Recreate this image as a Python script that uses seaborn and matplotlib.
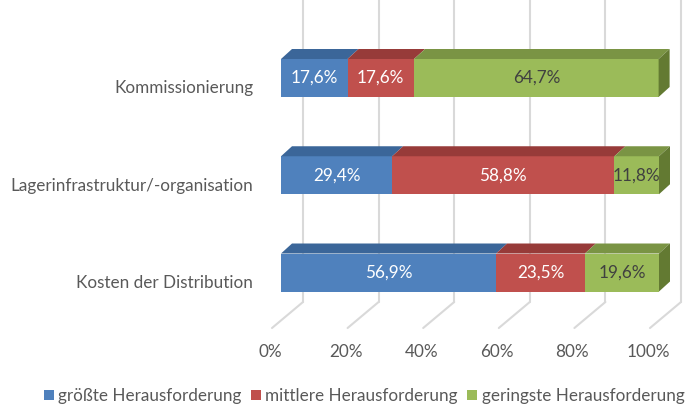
import numpy as np
import pandas as pd
import matplotlib
matplotlib.use("Agg")
import matplotlib.pyplot as plt
import matplotlib.transforms as mtransforms
from matplotlib.patches import Polygon, Patch
import seaborn as sns

# data
categories = ["Kommissionierung", "Lagerinfrastruktur/-organisation", "Kosten der Distribution"]
groesste = [17.6, 29.4, 56.9]
mittlere = [17.6, 58.8, 23.5]
geringste = [64.7, 11.8, 19.6]
series_names = ["größte Herausforderung", "mittlere Herausforderung", "geringste Herausforderung"]
tick_values = [0, 20, 40, 60, 80, 100]

front_cols = ["#4F81BD", "#C0504D", "#9BBB59"]
top_cols = ["#3B6699", "#973B39", "#7A9444"]
side_col = "#637A32"
label_cols = ["white", "white", "#404040"]

sns.set_style("white")
plt.rcParams["font.family"] = ["Lato", "DejaVu Sans"]
fs = 12.3

df = pd.DataFrame({"cat": categories, "s1": groesste, "s2": mittlere, "s3": geringste})
df["c1"] = df["s1"]
df["c2"] = df["s1"] + df["s2"]
df["c3"] = df["s1"] + df["s2"] + df["s3"]

W, H = 691, 407
fig = plt.figure(figsize=(W / 100, H / 100), dpi=100)
# axes: x 0% at px 281, 100% at px 659; bar centres 97.25 px apart
px_x = 3.78
px_y = 97.25
left_px, right_px, top_px, bot_px = 281, 685, 0, 340
ax = fig.add_axes([left_px / W, (H - bot_px) / H, (right_px - left_px) / W, (bot_px - top_px) / H])

bar_h = 38 / px_y
# stacked bars via cumulative totals, drawn longest first
for col, fc in zip(["c3", "c2", "c1"], front_cols[::-1]):
    sns.barplot(data=df, x=col, y="cat", orient="h", color=fc, width=bar_h,
                saturation=1, ax=ax, zorder=3, linewidth=0)

ax.set_xlim(0, (right_px - left_px) / px_x)
ax.set_ylim((bot_px - 78) / px_y, (top_px - 78) / px_y)

# 3D look: top faces and right side face
dx = 11 / px_x
dy = 10 / px_y
cums = df[["c1", "c2", "c3"]].to_numpy()
segs = df[["s1", "s2", "s3"]].to_numpy()
for i in range(len(categories)):
    ytop = i - bar_h / 2
    ybot = i + bar_h / 2
    starts = np.concatenate([[0], cums[i, :-1]])
    for j in range(3):
        x0, x1 = starts[j], cums[i, j]
        ax.add_patch(Polygon([(x0, ytop), (x1, ytop), (x1 + dx, ytop - dy), (x0 + dx, ytop - dy)],
                             closed=True, fc=top_cols[j], ec="none", zorder=3))
        ax.text((x0 + x1) / 2, i, f"{segs[i, j]:.1f}%".replace(".", ","), ha="center", va="center",
                color=label_cols[j], fontsize=fs, zorder=5)
    xe = cums[i, -1]
    ax.add_patch(Polygon([(xe, ytop), (xe + dx, ytop - dy), (xe + dx, ybot - dy), (xe, ybot)],
                         closed=True, fc=side_col, ec="none", zorder=3))

# back wall gridlines and floor lines
back_dx = 22 / px_x
floor_back_y = (302 - 78) / px_y
floor_front_y = (328 - 78) / px_y
floor_dx = 31 / px_x
for v in tick_values:
    ax.plot([v + back_dx, v + back_dx], [ax.get_ylim()[1], floor_back_y], color="#D9D9D9",
            lw=1.5, zorder=1, clip_on=False)
    ax.plot([v + back_dx, v + back_dx - floor_dx], [floor_back_y, floor_front_y], color="#D9D9D9",
            lw=1.5, zorder=1, clip_on=False)

# x tick labels (shifted to front of the floor)
ax.set_xticks(tick_values)
ax.set_xticklabels([f"{v}%" for v in tick_values], fontsize=fs, color="#595959")
ax.tick_params(axis="x", length=0, pad=3)
off_x = mtransforms.ScaledTranslation(-11 / 100, 0, fig.dpi_scale_trans)
for lab in ax.get_xticklabels():
    lab.set_transform(lab.get_transform() + off_x)

# category labels
ax.set_yticks(range(len(categories)))
ax.set_yticklabels(categories, fontsize=fs, color="#595959")
ax.tick_params(axis="y", length=0, pad=20)
off_y = mtransforms.ScaledTranslation(0, -9 / 100, fig.dpi_scale_trans)
for lab in ax.get_yticklabels():
    lab.set_transform(lab.get_transform() + off_y)

ax.set_xlabel("")
ax.set_ylabel("")
sns.despine(ax=ax, left=True, bottom=True)

handles = [Patch(fc=c, ec="none") for c in front_cols]
fig.legend(handles, series_names, loc="center", bbox_to_anchor=(364 / W, 1 - 396 / H), ncol=3,
           frameon=False, fontsize=fs, labelcolor="#595959", handlelength=0.6, handleheight=0.6,
           handletextpad=0.25, columnspacing=0.55, borderpad=0.1)

fig.savefig("out.png", dpi=100)
